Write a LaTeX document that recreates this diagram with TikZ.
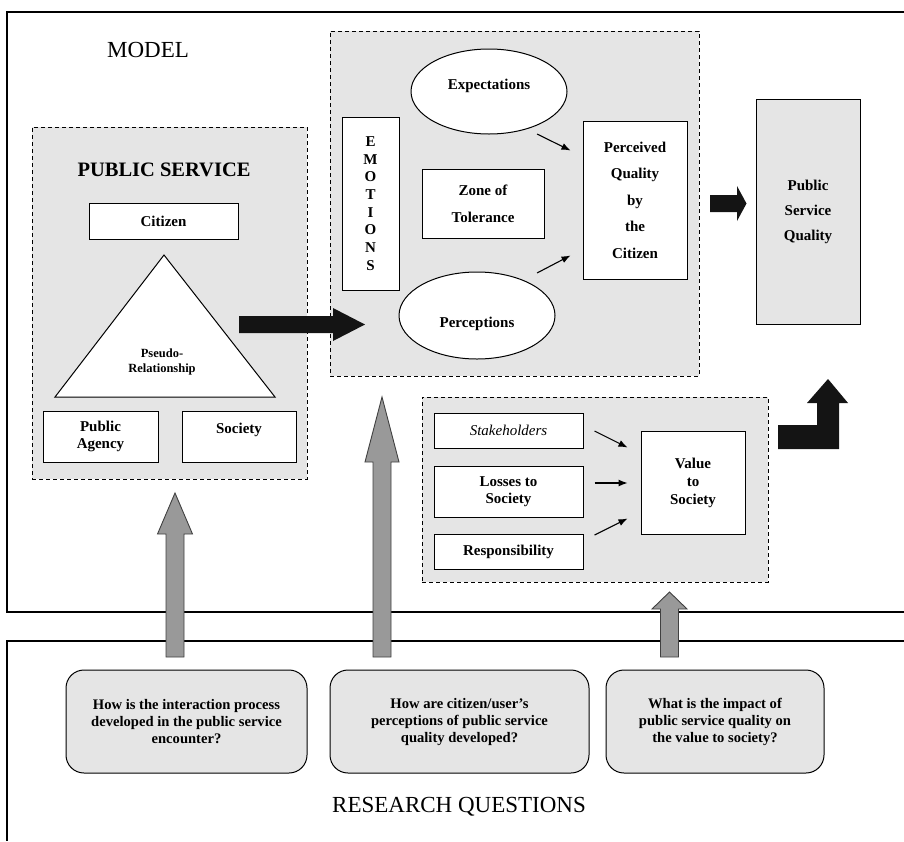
\documentclass[tikz,border=0pt]{standalone}
\usepackage{fontspec}
\setmainfont{Liberation Serif}
\usepackage{tikz}
\usetikzlibrary{arrows.meta,positioning,calc,shapes}

\newcommand{\boxfont}{\fontsize{15}{17}\selectfont\bfseries}
\newcommand{\titlefont}{\fontsize{23}{27}\selectfont}

\tikzset{
  box/.style={draw, line width=1pt, fill=white, inner sep=0pt, align=center, font=\boxfont},
  graybox/.style={box, fill=gray!20},
  dashbox/.style={draw, dashed, dash pattern=on 4pt off 3pt, fill=gray!20, line width=0.9pt, inner sep=0pt},
  oval/.style={box, ellipse},
  question/.style={draw, line width=1pt, fill=gray!20, rounded corners=18pt, inner sep=0pt, align=center, font=\fontsize{14.6}{17}\selectfont\bfseries, minimum height=103},
  small arrow/.style={-{Latex[length=9pt,width=7pt]}, line width=1.1pt},
  block/.style={fill=black!92},
  grayarrow/.style={fill=gray!80, draw=black!75, line width=0.9pt},
}

\begin{document}
\begin{tikzpicture}[x=1pt,y=-1pt]
\useasboundingbox (0,0) rectangle (904,841);

% Frames
\draw[line width=1.2pt] (904,12) -- (7,12) -- (7,612) -- (904,612);
\draw[line width=1.2pt] (904,641) -- (7,641) -- (7,841);
\node[font=\titlefont] (model) at (148,50) {MODEL};
\node[font=\titlefont] (rq) at (459,807) {RESEARCH QUESTIONS};

% Public service
\node[dashbox, minimum width=275, minimum height=352] (psbox) at (169.5,303) {};
\node[font=\fontsize{20.5}{24}\selectfont\bfseries] (pstitle) at (164,170) {PUBLIC SERVICE};
\node[box, minimum width=149, minimum height=36] (citizen) at (163.5,221) {Citizen};
\draw[line width=1pt, fill=white] (164,255) -- (275,397) -- (55,397) -- cycle;
\node[align=center, font=\fontsize{12.5}{15}\selectfont\bfseries] (pseudo) at (162,362) {Pseudo-\\Relationship};
\node[box, minimum width=115, minimum height=51] (agency) at (100.5,436.5) {Public\\Agency};
\node[box, minimum width=114, minimum height=51] (society) at (239,436.5) {Society\\~};

% Perceived quality
\node[dashbox, minimum width=369, minimum height=345] (pqbox) at (514.5,203.5) {};
\node[oval, minimum width=156, minimum height=85, label={[font=\boxfont, yshift=6pt]center:Expectations}] (expect) at (489,91.5) {};
\node[oval, minimum width=156, minimum height=87, label={[font=\boxfont, yshift=-8pt]center:Perceptions}] (percep) at (477,315.5) {};
\node[box, minimum width=57, minimum height=173, font=\fontsize{15}{17.7}\selectfont\bfseries] (emotions) at (370.5,203.5) {E\\M\\O\\T\\I\\O\\N\\S};
\node[box, minimum width=122, minimum height=69, font=\fontsize{15}{27}\selectfont\bfseries] (zone) at (483,203.5) {Zone of\\Tolerance};
\node[box, minimum width=104, minimum height=158, font=\fontsize{15}{26.5}\selectfont\bfseries] (pqc) at (635,200) {Perceived\\Quality\\by\\the\\Citizen};
\node[graybox, minimum width=104, minimum height=225, font=\fontsize{15}{25}\selectfont\bfseries] (psq) at (808,211.5) {Public\\Service\\Quality};
\draw[small arrow] ($(expect.center)+(48,42.5)$) -- ($(pqc.north west)+(-12,30)$);
\draw[small arrow] ($(percep.center)+(60,-42.5)$) -- ($(pqc.south west)+(-12,-24)$);

% Value to society
\node[dashbox, minimum width=346, minimum height=185] (vsbox) at (595,489.5) {};
\node[box, minimum width=149, minimum height=35, font=\fontsize{15}{17}\selectfont\itshape] (stake) at (508.5,430.5) {Stakeholders};
\node[box, minimum width=149, minimum height=51] (losses) at (508.5,491.5) {Losses to\\Society};
\node[box, minimum width=149, minimum height=35] (resp) at (508.5,551.5) {Responsibility};
\node[box, minimum width=104, minimum height=103, font=\fontsize{15}{18}\selectfont\bfseries] (value) at (693,482.5) {Value\\to\\Society};
\draw[small arrow] ($(stake.east)+(11,0.5)$) -- ($(value.north west)+(-13,17)$);
\draw[small arrow] ($(losses.east)+(11,-8.5)$) -- ($(value.west)+(-13,0.5)$);
\draw[small arrow] ($(resp.east)+(11,-16.5)$) -- ($(value.south west)+(-13,-16)$);

% Block arrows
\fill[block] (239,316) -- (333,316) -- (333,308) -- (365,324.5) -- (333,341) -- (333,333) -- (239,333) -- cycle;
\fill[block] (710,195) -- (737,195) -- (737,186) -- (746.5,203.5) -- (737,221) -- (737,212) -- (710,212) -- cycle;
\fill[block] (778,425) -- (817,425) -- (817,403) -- (807,403) -- (828,379) -- (848,403) -- (839,403) -- (839,449) -- (778,449) -- cycle;

% Research questions
\node[question, minimum width=241] (q1) at (186.5,721.5) {How is the interaction process\\developed in the public service\\encounter?};
\node[question, minimum width=259] (q2) at (459.5,721.5) {How are citizen/user's\\perceptions of public service\\quality developed?};
\node[question, minimum width=218] (q3) at (715,721.5) {What is the impact of\\public service quality on\\the value to society?};

% Gray arrows from the questions
\foreach \x/\hw/\base/\tip in {175/17.5/534/493, 382/17/462/397, 669.5/17.5/609/592}
  \draw[grayarrow] (\x-9,657) -- (\x-9,\base) -- (\x-\hw,\base) -- (\x,\tip) -- (\x+\hw,\base) -- (\x+9,\base) -- (\x+9,657) -- cycle;
\end{tikzpicture}
\end{document}
